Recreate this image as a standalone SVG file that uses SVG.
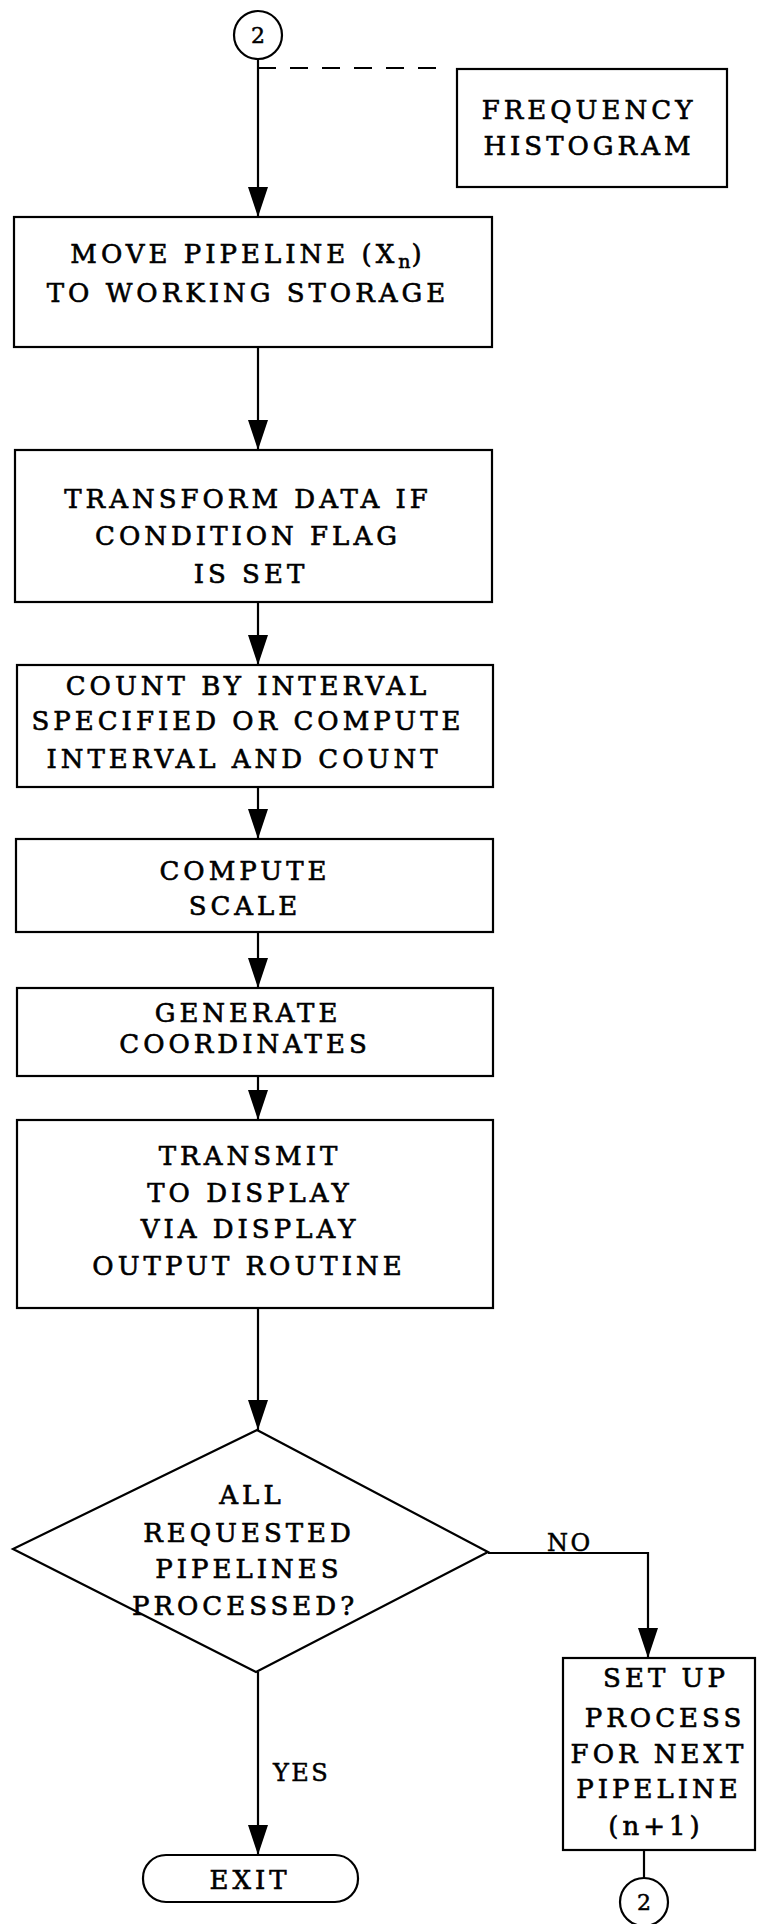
<svg xmlns="http://www.w3.org/2000/svg" width="762" height="1924" viewBox="0 0 762 1924">
<style>
  .box { fill: #ffffff; stroke: #000000; stroke-width: 2.2; }
  .ln { fill: none; stroke: #000000; stroke-width: 2.2; }
  .dash { fill: none; stroke: #000000; stroke-width: 2.2; stroke-dasharray: 18 14; }
  .t { font-family: "DejaVu Serif", "Liberation Serif", serif; font-size: 26px; letter-spacing: 4px; fill: #000000; stroke: #000000; stroke-width: 0.6px; text-anchor: middle; }
  .lbl { font-family: "DejaVu Serif", "Liberation Serif", serif; font-size: 24px; letter-spacing: 2.5px; fill: #000000; stroke: #000000; stroke-width: 0.5px; }
  .c { font-family: "DejaVu Serif", "Liberation Serif", serif; font-size: 22px; fill: #000000; stroke: #000000; stroke-width: 0.5px; text-anchor: middle; }
</style>
<defs>
  <marker id="arr" viewBox="0 0 30 20" markerWidth="30" markerHeight="20" refX="30" refY="10" orient="auto" markerUnits="userSpaceOnUse">
    <path d="M0,0 L30,10 L0,20 z" fill="#000000"/>
  </marker>
</defs>
<rect width="762" height="1924" fill="#ffffff"/>

<g id="connectors">
  <line class="ln" x1="258" y1="59" x2="258" y2="217" marker-end="url(#arr)"/>
  <line class="dash" x1="258" y1="68" x2="450" y2="68"/>
  <line class="ln" x1="258" y1="347" x2="258" y2="450" marker-end="url(#arr)"/>
  <line class="ln" x1="258" y1="602" x2="258" y2="665" marker-end="url(#arr)"/>
  <line class="ln" x1="258" y1="787" x2="258" y2="839" marker-end="url(#arr)"/>
  <line class="ln" x1="258" y1="932" x2="258" y2="988" marker-end="url(#arr)"/>
  <line class="ln" x1="258" y1="1076" x2="258" y2="1120" marker-end="url(#arr)"/>
  <line class="ln" x1="258" y1="1308" x2="258" y2="1430" marker-end="url(#arr)"/>
  <polyline class="ln" points="488,1553 648,1553 648,1658" marker-end="url(#arr)"/>
  <line class="ln" x1="258" y1="1672" x2="258" y2="1855" marker-end="url(#arr)"/>
  <line class="ln" x1="644" y1="1850" x2="644" y2="1878"/>
  <text class="lbl" x="547" y="1551">NO</text>
  <text class="lbl" x="273" y="1781">YES</text>
</g>

<g id="conn-top">
  <circle class="box" cx="258" cy="35" r="24"/>
  <text class="c" x="258" y="43">2</text>
</g>

<g id="freq-histogram">
  <rect class="box" x="457" y="69" width="270" height="118"/>
  <text class="t" x="589" y="119">FREQUENCY</text>
  <text class="t" x="589" y="155">HISTOGRAM</text>
</g>

<g id="move-pipeline">
  <rect class="box" x="14" y="217" width="478" height="130"/>
  <text class="t" x="248" y="263">MOVE PIPELINE (X<tspan font-size="19" letter-spacing="1" dy="5">n</tspan><tspan dy="-5">)</tspan></text>
  <text class="t" x="248" y="302">TO WORKING STORAGE</text>
</g>

<g id="transform-data">
  <rect class="box" x="15" y="450" width="477" height="152"/>
  <text class="t" x="248" y="508">TRANSFORM DATA IF</text>
  <text class="t" x="248" y="545">CONDITION FLAG</text>
  <text class="t" x="251" y="583">IS SET</text>
</g>

<g id="count-interval">
  <rect class="box" x="17" y="665" width="476" height="122"/>
  <text class="t" x="248" y="695">COUNT BY INTERVAL</text>
  <text class="t" x="248" y="730">SPECIFIED OR COMPUTE</text>
  <text class="t" x="244" y="768">INTERVAL AND COUNT</text>
</g>

<g id="compute-scale">
  <rect class="box" x="16" y="839" width="477" height="93"/>
  <text class="t" x="245" y="880">COMPUTE</text>
  <text class="t" x="245" y="915">SCALE</text>
</g>

<g id="generate-coords">
  <rect class="box" x="17" y="988" width="476" height="88"/>
  <text class="t" x="248" y="1022">GENERATE</text>
  <text class="t" x="245" y="1053">COORDINATES</text>
</g>

<g id="transmit-display">
  <rect class="box" x="17" y="1120" width="476" height="188"/>
  <text class="t" x="250" y="1165">TRANSMIT</text>
  <text class="t" x="250" y="1202">TO DISPLAY</text>
  <text class="t" x="250" y="1238">VIA DISPLAY</text>
  <text class="t" x="249" y="1275">OUTPUT ROUTINE</text>
</g>

<g id="decision">
  <polygon class="box" points="257,1430 488,1552 256,1672 13,1549"/>
  <text class="t" x="252" y="1504">ALL</text>
  <text class="t" x="249" y="1542">REQUESTED</text>
  <text class="t" x="249" y="1578">PIPELINES</text>
  <text class="t" x="245" y="1615">PROCESSED?</text>
</g>

<g id="setup-next">
  <rect class="box" x="563" y="1658" width="192" height="192"/>
  <text class="t" x="666" y="1687">SET UP</text>
  <text class="t" x="665" y="1727">PROCESS</text>
  <text class="t" x="659" y="1763">FOR NEXT</text>
  <text class="t" x="659" y="1798">PIPELINE</text>
  <text class="t" x="656" y="1835">(n+1)</text>
</g>

<g id="conn-bottom">
  <circle class="box" cx="644" cy="1902" r="24"/>
  <text class="c" x="644" y="1910">2</text>
</g>

<g id="exit">
  <rect class="box" x="143" y="1855" width="215" height="47" rx="23" ry="23"/>
  <text class="t" x="250" y="1889">EXIT</text>
</g>
</svg>
